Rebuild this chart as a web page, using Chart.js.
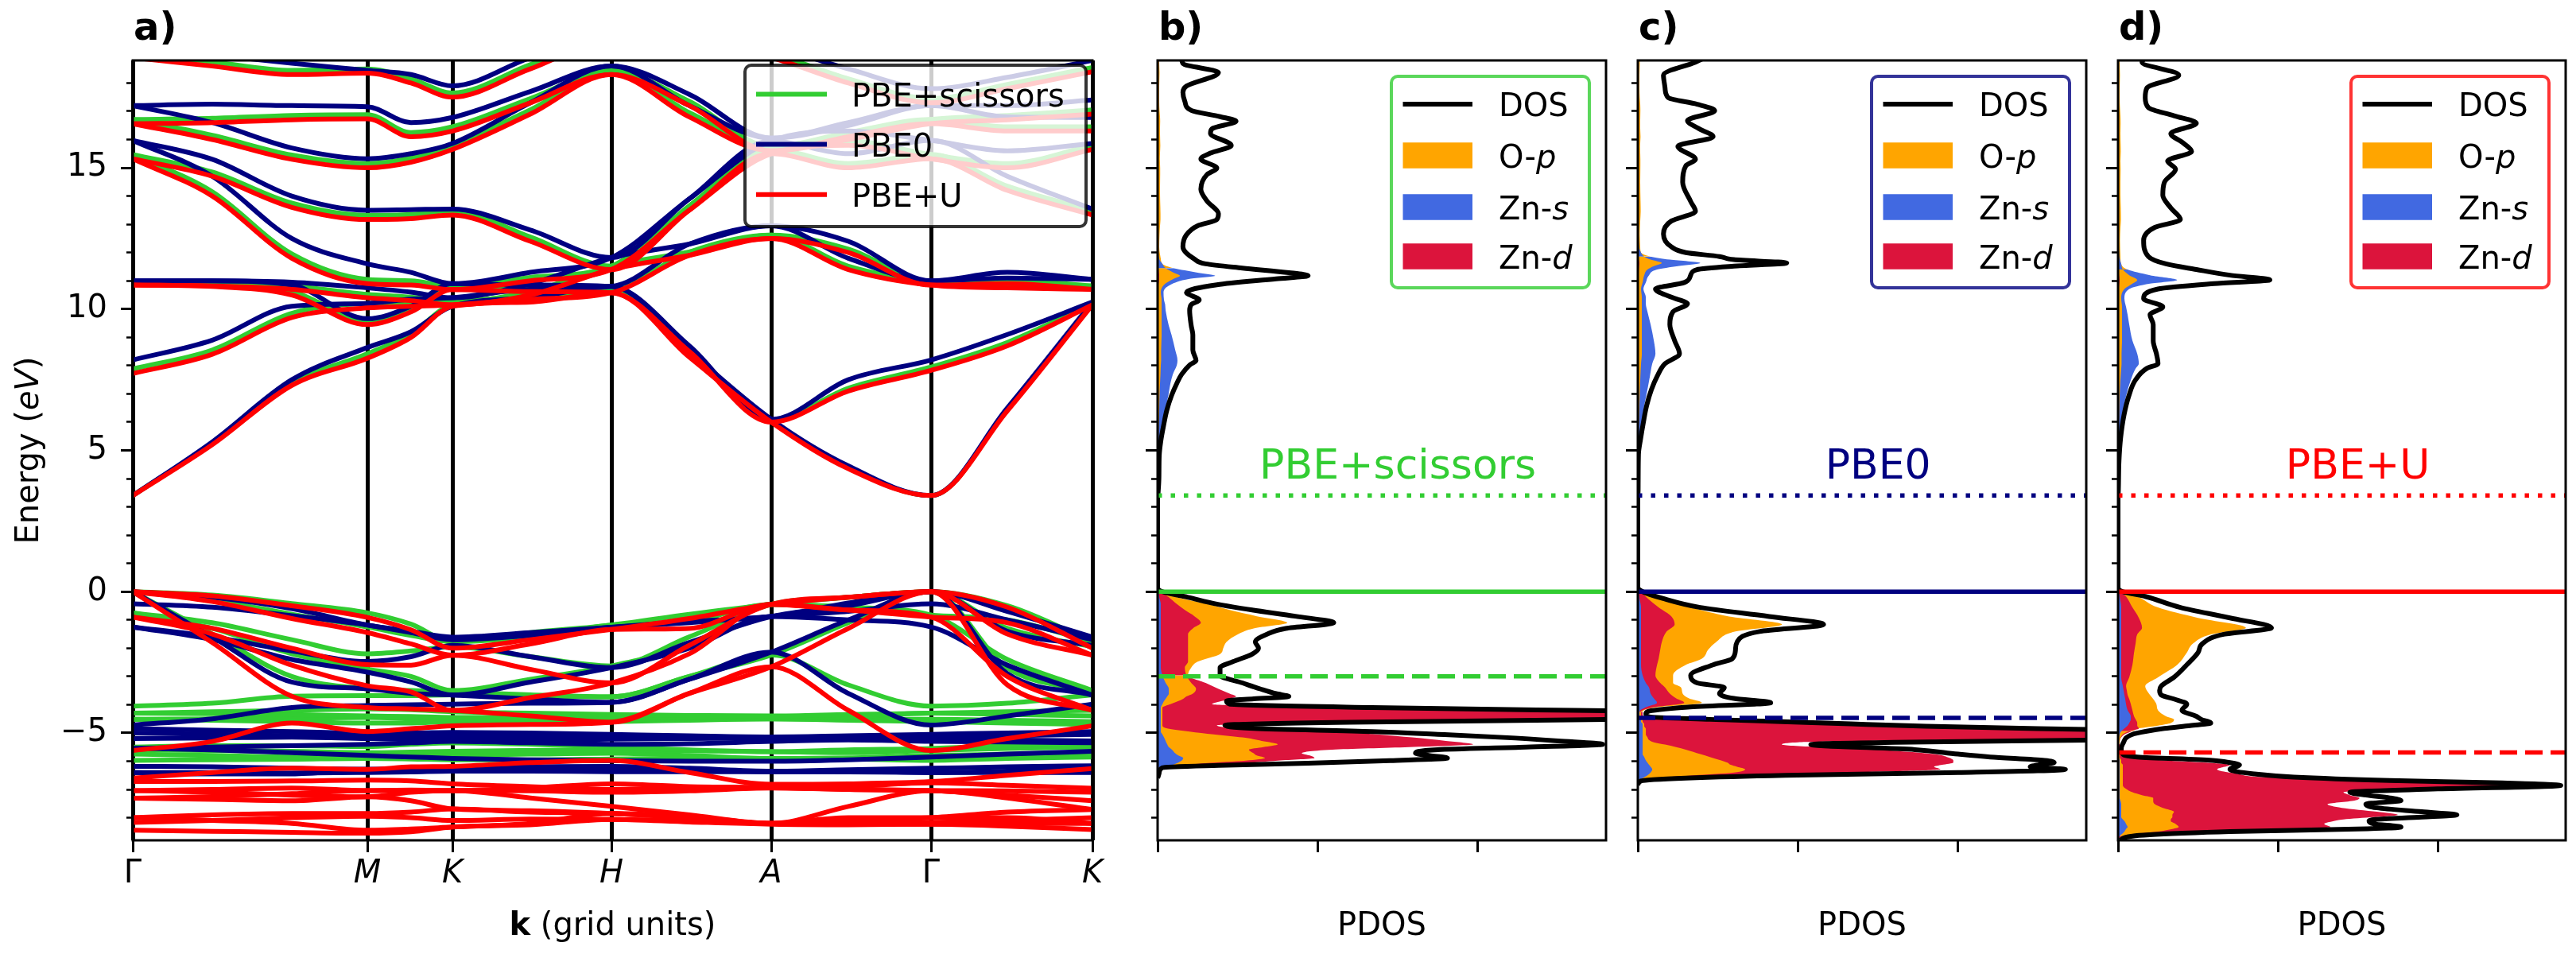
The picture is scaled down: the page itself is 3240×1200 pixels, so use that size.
<!DOCTYPE html>
<html>
<head>
<meta charset="utf-8">
<title>ZnO band structure and PDOS</title>
<script src="https://cdn.jsdelivr.net/npm/chart.js"></script>
<style>
html,body{margin:0;padding:0;background:#ffffff;}
#wrap{position:relative;width:3240px;height:1200px;background:#ffffff;}
#wrap canvas{position:absolute;left:0;top:0;width:3240px;height:1200px;}
</style>
</head>
<body>
<div id="wrap">
<canvas id="cA" width="3240" height="1200"></canvas>
<canvas id="cB" width="3240" height="1200"></canvas>
<canvas id="cC" width="3240" height="1200"></canvas>
<canvas id="cD" width="3240" height="1200"></canvas>
</div>
<script>
// ---------------- constants ----------------
const FAMILY = 'DejaVu Sans';
const FS = 40;
const C_SCI = '#32cd32', C_PBE0 = '#000080', C_U = '#ff0000';
const C_OP = '#ffa500', C_ZNS = '#4169e1', C_ZND = '#dc143c';

const E_MIN = -8.8, E_MAX = 18.8;
const Y_MAJOR = [-5, 0, 5, 10, 15];
const Y_MINOR = [-8,-7,-6,-5,-4,-3,-2,-1,0,1,2,3,4,5,6,7,8,9,10,11,12,13,14,15,16,17,18];

// ---------------- band structure: k path ----------------
const HS_POS = [0, 29.5, 40.2, 60.2, 80.3, 100.4, 120.7];
const HS_LABELS = ['Γ', 'M', 'K', 'H', 'A', 'Γ', 'K'];
const K_GRID = [0, 10, 20, 29.5, 35, 40.2, 50, 60.2, 70, 80.3, 90, 100.4, 110, 120.7];

// PBE+scissors bands (eV) sampled on K_GRID
const SCI_P = [
  [0.00, -0.12, -0.42, -0.75, -1.15, -1.77, -1.45, -1.18, -0.80, -0.45, -0.20, 0.00, -0.50, -1.77],
  [0.00, -0.30, -0.80, -1.25, -1.55, -1.77, -1.60, -1.18, -1.05, -0.45, -0.55, -0.83, -1.00, -1.77],
  [-0.75, -1.10, -1.70, -2.20, -2.10, -1.95, -2.30, -2.63, -1.60, -0.45, -0.20, 0.00, -1.30, -1.95],
  [-0.75, -1.30, -2.20, -2.74, -3.00, -3.50, -3.10, -2.63, -1.90, -0.45, -0.55, -0.83, -2.40, -3.50],
  [0.00, -1.50, -3.00, -3.44, -3.50, -3.55, -3.65, -3.72, -3.00, -2.24, -1.10, 0.00, -2.70, -3.55],
  [-4.05, -3.95, -3.70, -3.68, -3.68, -3.65, -3.68, -3.72, -3.00, -2.24, -3.30, -4.05, -3.95, -3.65]
];
const SCI_D = [
  [-4.30, -4.25, -4.20, -4.15, -4.18, -4.25, -4.30, -4.35, -4.38, -4.40, -4.35, -4.30, -4.25, -4.20],
  [-4.30, -4.32, -4.35, -4.40, -4.42, -4.45, -4.45, -4.42, -4.43, -4.43, -4.42, -4.30, -4.35, -4.40],
  [-4.52, -4.50, -4.48, -4.45, -4.50, -4.55, -4.55, -4.52, -4.50, -4.50, -4.52, -4.52, -4.55, -4.60],
  [-4.52, -4.55, -4.60, -4.65, -4.65, -4.60, -4.62, -4.60, -4.55, -4.50, -4.55, -4.60, -4.65, -4.70],
  [-5.50, -5.45, -5.45, -5.48, -5.40, -5.35, -5.40, -5.50, -5.60, -5.66, -5.60, -5.55, -5.45, -5.35],
  [-5.60, -5.62, -5.65, -5.70, -5.68, -5.65, -5.62, -5.60, -5.63, -5.66, -5.70, -5.62, -5.55, -5.50],
  [-5.75, -5.80, -5.85, -5.85, -5.80, -5.78, -5.75, -5.72, -5.80, -5.90, -5.88, -5.80, -5.75, -5.70],
  [-5.97, -5.95, -5.93, -5.90, -5.92, -5.95, -5.95, -5.92, -5.90, -5.90, -5.92, -5.97, -5.90, -5.85]
];
const SCI_C = [
  [3.40, 5.25, 7.38, 8.42, 9.12, 10.15, 10.32, 10.65, 8.38, 6.05, 4.40, 3.40, 6.45, 10.20],
  [7.88, 8.55, 9.85, 10.20, 10.22, 10.25, 10.47, 10.65, 12.02, 12.62, 11.52, 10.97, 10.87, 10.82],
  [10.97, 10.92, 10.62, 9.60, 10.02, 10.81, 10.74, 10.65, 8.58, 6.05, 7.20, 7.95, 8.82, 10.20],
  [10.97, 10.94, 10.82, 10.52, 10.42, 10.25, 10.62, 11.52, 12.02, 12.62, 12.12, 10.97, 11.02, 10.82],
  [15.47, 14.15, 11.95, 11.05, 11.00, 10.81, 11.12, 11.52, 13.65, 15.65, 15.15, 15.47, 14.35, 13.48],
  [15.47, 14.85, 13.75, 13.32, 13.35, 13.48, 12.55, 11.52, 13.65, 15.65, 15.95, 15.47, 15.15, 15.80],
  [16.71, 16.15, 15.45, 15.15, 15.35, 15.80, 17.05, 18.45, 16.95, 15.75, 16.25, 16.71, 16.45, 16.45],
  [16.71, 16.75, 16.85, 16.88, 16.25, 16.45, 17.45, 18.45, 17.35, 15.75, 16.15, 16.71, 16.85, 17.05],
  [19.05, 18.75, 18.45, 18.50, 18.15, 17.65, 18.65, 19.65, 19.65, 19.05, 18.15, 17.45, 17.95, 18.55]
];

// PBE0 bands
const PBE0_P = [
  [0.00, -0.20, -0.60, -1.18, -1.40, -1.61, -1.45, -1.26, -1.05, -0.88, -0.40, 0.00, -0.70, -1.61],
  [-0.43, -0.55, -0.85, -1.18, -1.45, -1.70, -1.55, -1.26, -1.10, -0.88, -0.70, -0.43, -1.00, -1.70],
  [-1.25, -1.60, -2.10, -2.47, -2.30, -1.90, -2.30, -2.69, -1.80, -0.88, -0.50, 0.00, -1.40, -1.90],
  [-1.25, -1.70, -2.40, -2.85, -3.20, -3.66, -3.20, -2.69, -2.00, -0.88, -1.00, -1.25, -2.60, -3.66],
  [0.00, -1.60, -3.20, -3.44, -3.60, -3.66, -3.80, -3.92, -3.10, -2.14, -1.00, 0.00, -2.90, -3.66],
  [-4.72, -4.50, -4.10, -4.03, -4.00, -3.98, -3.95, -3.92, -3.10, -2.14, -3.60, -4.72, -4.40, -3.98]
];
const PBE0_D = [
  [-4.85, -4.90, -4.95, -5.00, -5.00, -4.98, -5.00, -5.05, -5.10, -5.14, -5.10, -5.05, -5.00, -4.95],
  [-5.00, -5.05, -5.10, -5.14, -5.12, -5.10, -5.12, -5.14, -5.14, -5.14, -5.14, -5.14, -5.10, -5.05],
  [-5.20, -5.18, -5.15, -5.20, -5.22, -5.25, -5.25, -5.22, -5.20, -5.18, -5.20, -5.22, -5.25, -5.28],
  [-5.54, -5.50, -5.45, -5.40, -5.35, -5.30, -5.35, -5.40, -5.38, -5.30, -5.25, -5.30, -5.32, -5.35],
  [-5.54, -5.60, -5.70, -5.80, -5.85, -5.90, -5.95, -5.98, -6.00, -6.00, -5.95, -5.85, -5.75, -5.65],
  [-6.18, -6.20, -6.25, -6.28, -6.26, -6.22, -6.20, -6.18, -6.25, -6.35, -6.30, -6.25, -6.20, -6.16],
  [-6.40, -6.40, -6.42, -6.40, -6.38, -6.35, -6.35, -6.37, -6.37, -6.37, -6.38, -6.40, -6.40, -6.40],
  [-6.40, -6.45, -6.45, -6.30, -6.30, -6.30, -6.30, -6.30, -6.30, -6.37, -6.35, -6.40, -6.35, -6.25]
];
const PBE0_C = [
  [3.40, 5.30, 7.50, 8.64, 9.20, 10.10, 10.40, 10.80, 8.50, 6.10, 4.45, 3.40, 6.50, 10.25],
  [8.20, 8.90, 10.10, 10.20, 10.35, 10.40, 10.70, 10.80, 12.30, 12.95, 11.80, 11.00, 11.10, 11.05],
  [11.00, 11.00, 10.85, 9.66, 10.10, 10.90, 10.85, 10.80, 8.70, 6.10, 7.50, 8.20, 9.10, 10.25],
  [11.00, 11.00, 10.95, 10.75, 10.60, 10.40, 10.90, 11.82, 12.30, 12.95, 12.40, 11.00, 11.30, 11.05],
  [15.97, 14.70, 12.50, 11.60, 11.30, 10.90, 11.30, 11.82, 13.90, 15.95, 15.50, 15.97, 14.70, 13.54],
  [15.97, 15.30, 14.00, 13.50, 13.52, 13.54, 12.80, 11.82, 13.90, 15.95, 16.30, 15.97, 15.60, 15.86],
  [17.20, 16.60, 15.70, 15.32, 15.50, 15.86, 17.30, 18.60, 17.20, 16.05, 16.60, 17.20, 16.80, 16.78],
  [17.20, 17.25, 17.20, 17.16, 16.60, 16.78, 17.70, 18.60, 17.60, 16.05, 16.50, 17.20, 17.20, 17.40],
  [19.30, 19.00, 18.70, 18.45, 18.30, 17.90, 18.90, 19.80, 19.80, 19.30, 18.50, 17.80, 18.20, 18.80]
];

// PBE+U bands
const U_P = [
  [0.00, -0.15, -0.50, -0.91, -1.35, -2.00, -1.70, -1.34, -0.95, -0.45, -0.20, 0.00, -0.55, -2.00],
  [0.00, -0.35, -0.95, -1.45, -1.85, -2.25, -1.85, -1.34, -1.30, -0.45, -0.65, -0.90, -1.10, -2.25],
  [-0.90, -1.30, -2.00, -2.58, -2.60, -2.25, -2.75, -3.23, -1.90, -0.45, -0.20, 0.00, -1.50, -2.25],
  [-0.90, -1.50, -2.60, -3.33, -3.55, -4.20, -3.75, -3.23, -2.20, -0.45, -0.65, -0.90, -3.00, -4.20],
  [0.00, -1.80, -3.70, -4.10, -4.15, -4.20, -4.40, -4.62, -3.60, -2.66, -1.30, 0.00, -3.30, -4.20],
  [-5.62, -5.30, -4.65, -4.95, -4.85, -4.75, -4.70, -4.62, -3.60, -2.66, -4.20, -5.62, -5.20, -4.75]
];
const U_D = [
  [-6.60, -6.40, -6.25, -6.29, -6.20, -6.18, -6.05, -5.97, -6.40, -6.82, -6.80, -6.72, -6.50, -6.26],
  [-6.72, -6.72, -6.70, -6.67, -6.70, -6.80, -6.90, -7.00, -6.95, -6.93, -6.90, -6.77, -6.85, -6.96],
  [-7.04, -7.00, -6.95, -7.04, -7.02, -7.04, -7.05, -7.10, -7.05, -6.95, -7.00, -7.04, -7.05, -7.10],
  [-7.04, -7.10, -7.20, -7.26, -7.10, -7.04, -7.30, -7.60, -7.90, -8.20, -7.60, -7.04, -7.30, -7.71],
  [-7.31, -7.35, -7.40, -7.26, -7.40, -7.69, -7.75, -7.85, -8.00, -8.20, -8.10, -8.00, -7.80, -7.71],
  [-8.00, -7.90, -7.85, -7.85, -7.80, -7.69, -7.80, -7.85, -8.00, -8.20, -8.20, -8.17, -8.10, -8.00],
  [-8.17, -8.10, -8.00, -7.95, -8.00, -8.10, -8.05, -8.06, -8.10, -8.20, -8.20, -8.23, -8.20, -8.20],
  [-8.44, -8.48, -8.52, -8.55, -8.50, -8.33, -8.25, -8.06, -8.15, -8.23, -8.25, -8.23, -8.30, -8.42],
  [-7.31, -7.25, -7.15, -7.04, -7.04, -7.04, -6.95, -6.80, -6.90, -6.93, -7.00, -7.04, -7.20, -7.40],
  [-8.00, -8.10, -8.20, -8.44, -8.40, -8.33, -8.20, -7.85, -7.95, -8.20, -8.00, -8.00, -8.00, -8.20]
];
const U_C = [
  [3.40, 5.20, 7.30, 8.26, 9.00, 10.10, 10.25, 10.58, 8.30, 6.00, 4.35, 3.40, 6.40, 10.15],
  [7.72, 8.40, 9.70, 10.04, 10.10, 10.15, 10.35, 10.58, 11.90, 12.50, 11.40, 10.85, 10.75, 10.70],
  [10.85, 10.80, 10.50, 9.45, 9.90, 10.69, 10.62, 10.58, 8.50, 6.00, 7.10, 7.83, 8.70, 10.15],
  [10.85, 10.82, 10.70, 10.40, 10.30, 10.15, 10.50, 11.40, 11.90, 12.50, 12.00, 10.85, 10.90, 10.70],
  [15.32, 14.00, 11.80, 10.90, 10.85, 10.69, 11.00, 11.40, 13.50, 15.50, 15.00, 15.32, 14.20, 13.33],
  [15.32, 14.70, 13.60, 13.17, 13.20, 13.33, 12.40, 11.40, 13.50, 15.50, 15.80, 15.32, 15.00, 15.65],
  [16.56, 16.00, 15.30, 15.00, 15.20, 15.65, 16.90, 18.30, 16.80, 15.60, 16.10, 16.56, 16.30, 16.30],
  [16.56, 16.60, 16.70, 16.73, 16.10, 16.30, 17.30, 18.30, 17.20, 15.60, 16.00, 16.56, 16.70, 16.90],
  [18.90, 18.60, 18.30, 18.35, 18.00, 17.50, 18.50, 19.50, 19.50, 18.90, 18.00, 17.30, 17.80, 18.40]
];

// ---------------- PDOS: rows = [E, DOS, O-p, Zn-s, Zn-d] ----------------
const PDOS_X_MAX = 2.8;
const PDOS_TICKS = [0, 1, 2];
const VBM = 0.0, CBM = 3.4;
const DASH_SCI = -3.0, DASH_PBE0 = -4.47, DASH_U = -5.69;
const LABEL_POS = [1.5, 4.0];

const PDOS_SCI = [
  [-6.60, 0.00, 0.00, 0.00, 0.00], [-6.40, 0.01, 0.00, 0.00, 0.00], [-6.23, 0.03, 0.01, 0.02, 0.01],
  [-6.15, 0.38, 0.15, 0.08, 0.15], [-6.07, 0.94, 0.30, 0.12, 0.52], [-5.98, 1.45, 0.55, 0.15, 0.75],
  [-5.89, 1.81, 0.67, 0.16, 0.98], [-5.80, 1.70, 0.62, 0.13, 0.95], [-5.72, 1.61, 0.60, 0.11, 0.90],
  [-5.59, 1.75, 0.57, 0.09, 1.09], [-5.50, 2.30, 0.66, 0.07, 1.57], [-5.40, 2.78, 0.75, 0.06, 1.97],
  [-5.28, 2.50, 0.65, 0.05, 1.80], [-5.16, 2.16, 0.53, 0.04, 1.59], [-5.05, 1.75, 0.35, 0.03, 1.37],
  [-4.95, 1.34, 0.20, 0.02, 1.12], [-4.84, 0.60, 0.06, 0.02, 0.52], [-4.73, 0.42, 0.03, 0.02, 0.37],
  [-4.62, 1.20, 0.03, 0.02, 1.10], [-4.52, 2.90, 0.03, 0.02, 2.70], [-4.45, 3.80, 0.03, 0.02, 3.55],
  [-4.36, 4.50, 0.03, 0.02, 4.20], [-4.27, 3.60, 0.03, 0.02, 3.35], [-4.20, 2.60, 0.03, 0.02, 2.40],
  [-4.10, 1.34, 0.03, 0.02, 1.20], [-3.98, 0.45, 0.08, 0.03, 0.34], [-3.87, 0.43, 0.13, 0.04, 0.40],
  [-3.79, 0.60, 0.16, 0.05, 0.45], [-3.71, 0.82, 0.18, 0.06, 0.49], [-3.61, 0.74, 0.22, 0.07, 0.45],
  [-3.44, 0.64, 0.24, 0.07, 0.38], [-3.23, 0.53, 0.21, 0.05, 0.30], [-2.96, 0.39, 0.18, 0.03, 0.19],
  [-2.69, 0.39, 0.21, 0.02, 0.17], [-2.48, 0.47, 0.25, 0.02, 0.19], [-2.21, 0.59, 0.39, 0.02, 0.19],
  [-2.00, 0.63, 0.41, 0.02, 0.19], [-1.78, 0.61, 0.43, 0.02, 0.19], [-1.51, 0.68, 0.50, 0.02, 0.19],
  [-1.30, 0.80, 0.60, 0.02, 0.22], [-1.10, 1.10, 0.81, 0.02, 0.27], [-0.87, 0.86, 0.62, 0.02, 0.23],
  [-0.65, 0.59, 0.45, 0.02, 0.17], [-0.44, 0.37, 0.31, 0.02, 0.12], [-0.20, 0.19, 0.12, 0.01, 0.07],
  [0.00, 0.03, 0.03, 0.005, 0.02], [0.15, 0.00, 0.00, 0.00, 0.00],
  [3.30, 0.000, 0.000, 0.000, 0.000], [3.50, 0.003, 0.000, 0.002, 0.000], [4.00, 0.008, 0.002, 0.005, 0.000],
  [4.80, 0.010, 0.003, 0.008, 0.000], [5.33, 0.020, 0.005, 0.015, 0.000], [5.87, 0.037, 0.007, 0.030, 0.001],
  [6.41, 0.057, 0.010, 0.047, 0.002], [6.94, 0.087, 0.012, 0.067, 0.002], [7.37, 0.120, 0.015, 0.080, 0.003],
  [7.69, 0.150, 0.018, 0.095, 0.003], [8.02, 0.200, 0.020, 0.120, 0.003], [8.18, 0.240, 0.022, 0.124, 0.003],
  [8.55, 0.220, 0.022, 0.110, 0.003], [9.09, 0.220, 0.025, 0.087, 0.003], [9.41, 0.210, 0.025, 0.070, 0.003],
  [9.95, 0.200, 0.025, 0.050, 0.003], [10.16, 0.210, 0.025, 0.047, 0.003], [10.32, 0.260, 0.025, 0.040, 0.003],
  [10.59, 0.180, 0.020, 0.037, 0.003], [10.86, 0.370, 0.040, 0.080, 0.005], [11.07, 0.740, 0.100, 0.200, 0.010],
  [11.18, 0.940, 0.140, 0.360, 0.010], [11.29, 0.820, 0.100, 0.250, 0.008], [11.45, 0.530, 0.050, 0.100, 0.005],
  [11.60, 0.300, 0.030, 0.030, 0.003], [11.77, 0.230, 0.020, 0.010, 0.002], [12.20, 0.158, 0.010, 0.005, 0.001],
  [12.63, 0.180, 0.012, 0.005, 0.001], [12.95, 0.250, 0.015, 0.005, 0.001], [13.17, 0.370, 0.018, 0.005, 0.001],
  [13.38, 0.380, 0.018, 0.005, 0.001], [13.81, 0.310, 0.016, 0.004, 0.001], [14.24, 0.270, 0.015, 0.004, 0.001],
  [14.77, 0.310, 0.016, 0.004, 0.001], [14.99, 0.370, 0.016, 0.004, 0.001], [15.31, 0.270, 0.014, 0.004, 0.001],
  [15.52, 0.330, 0.015, 0.004, 0.001], [15.79, 0.460, 0.017, 0.004, 0.001], [16.22, 0.330, 0.015, 0.004, 0.001],
  [16.38, 0.340, 0.015, 0.004, 0.001], [16.65, 0.490, 0.016, 0.004, 0.001], [16.81, 0.390, 0.015, 0.004, 0.001],
  [17.03, 0.210, 0.012, 0.003, 0.001], [17.35, 0.170, 0.010, 0.003, 0.001], [17.67, 0.158, 0.010, 0.003, 0.001],
  [17.89, 0.180, 0.010, 0.003, 0.001], [18.37, 0.380, 0.012, 0.003, 0.001], [18.69, 0.158, 0.010, 0.003, 0.001],
  [18.90, 0.150, 0.010, 0.003, 0.001]
];

const PDOS_PBE0 = [
  [-6.85, 0.00, 0.00, 0.00, 0.00], [-6.70, 0.02, 0.01, 0.005, 0.01], [-6.60, 0.30, 0.10, 0.03, 0.15],
  [-6.50, 0.92, 0.35, 0.06, 0.60], [-6.40, 2.00, 0.60, 0.08, 1.30], [-6.29, 2.67, 0.67, 0.09, 1.89],
  [-6.20, 2.45, 0.62, 0.08, 1.85], [-6.13, 2.50, 0.58, 0.07, 1.90], [-6.05, 2.60, 0.56, 0.06, 1.97],
  [-5.97, 2.54, 0.52, 0.05, 1.97], [-5.85, 2.20, 0.45, 0.04, 1.93], [-5.75, 2.00, 0.39, 0.03, 1.85],
  [-5.59, 1.73, 0.30, 0.03, 1.50], [-5.41, 1.08, 0.17, 0.03, 0.90], [-5.33, 1.60, 0.10, 0.03, 1.00],
  [-5.25, 2.90, 0.07, 0.03, 1.90], [-5.15, 4.20, 0.06, 0.03, 3.60], [-5.05, 4.60, 0.05, 0.03, 4.30],
  [-4.95, 3.60, 0.05, 0.03, 3.30], [-4.85, 2.50, 0.05, 0.03, 2.20], [-4.76, 1.80, 0.04, 0.03, 1.60],
  [-4.68, 1.33, 0.04, 0.03, 1.20], [-4.60, 0.90, 0.03, 0.02, 0.75], [-4.52, 0.45, 0.03, 0.02, 0.35],
  [-4.43, 0.07, 0.02, 0.01, 0.04], [-4.33, 0.05, 0.02, 0.01, 0.03], [-4.25, 0.06, 0.02, 0.01, 0.03],
  [-4.09, 0.31, 0.12, 0.05, 0.10], [-3.93, 0.83, 0.40, 0.12, 0.29], [-3.78, 0.60, 0.32, 0.10, 0.24],
  [-3.61, 0.51, 0.28, 0.08, 0.20], [-3.39, 0.54, 0.27, 0.07, 0.17], [-3.23, 0.37, 0.22, 0.05, 0.14],
  [-2.96, 0.33, 0.22, 0.03, 0.11], [-2.59, 0.47, 0.30, 0.02, 0.12], [-2.37, 0.59, 0.40, 0.02, 0.13],
  [-2.05, 0.61, 0.44, 0.02, 0.14], [-1.78, 0.62, 0.49, 0.02, 0.15], [-1.41, 0.76, 0.61, 0.02, 0.18],
  [-1.16, 1.16, 0.90, 0.02, 0.23], [-0.88, 0.82, 0.57, 0.02, 0.21], [-0.56, 0.39, 0.33, 0.02, 0.13],
  [-0.23, 0.15, 0.12, 0.01, 0.06], [0.00, 0.03, 0.03, 0.005, 0.02], [0.15, 0.00, 0.00, 0.00, 0.00],
  [3.30, 0.000, 0.000, 0.000, 0.000], [3.60, 0.002, 0.000, 0.001, 0.000], [4.86, 0.004, 0.001, 0.003, 0.000],
  [5.43, 0.018, 0.004, 0.012, 0.000], [6.00, 0.035, 0.007, 0.025, 0.001], [6.58, 0.055, 0.010, 0.040, 0.002],
  [7.15, 0.085, 0.013, 0.060, 0.002], [7.61, 0.120, 0.016, 0.075, 0.003], [8.07, 0.170, 0.020, 0.090, 0.003],
  [8.42, 0.260, 0.025, 0.110, 0.003], [8.88, 0.230, 0.025, 0.100, 0.003], [9.45, 0.200, 0.025, 0.080, 0.003],
  [9.91, 0.220, 0.025, 0.060, 0.003], [10.19, 0.310, 0.025, 0.050, 0.003], [10.42, 0.210, 0.025, 0.050, 0.003],
  [10.71, 0.110, 0.020, 0.035, 0.003], [10.94, 0.290, 0.030, 0.050, 0.004], [11.20, 0.330, 0.040, 0.070, 0.005],
  [11.40, 0.370, 0.060, 0.120, 0.006], [11.52, 0.600, 0.100, 0.250, 0.008], [11.63, 0.930, 0.150, 0.390, 0.010],
  [11.75, 0.600, 0.080, 0.200, 0.006], [11.86, 0.510, 0.040, 0.080, 0.004], [12.00, 0.300, 0.020, 0.020, 0.002],
  [12.20, 0.210, 0.015, 0.008, 0.001], [12.66, 0.160, 0.012, 0.005, 0.001], [13.12, 0.210, 0.015, 0.005, 0.001],
  [13.46, 0.360, 0.018, 0.005, 0.001], [13.81, 0.330, 0.017, 0.004, 0.001], [14.49, 0.280, 0.015, 0.004, 0.001],
  [15.07, 0.300, 0.016, 0.004, 0.001], [15.30, 0.360, 0.016, 0.004, 0.001], [15.76, 0.250, 0.014, 0.004, 0.001],
  [16.10, 0.470, 0.017, 0.004, 0.001], [16.39, 0.380, 0.015, 0.004, 0.001], [16.67, 0.310, 0.015, 0.004, 0.001],
  [17.02, 0.480, 0.016, 0.004, 0.001], [17.25, 0.370, 0.015, 0.004, 0.001], [17.48, 0.190, 0.012, 0.003, 0.001],
  [17.82, 0.170, 0.010, 0.003, 0.001], [18.28, 0.160, 0.010, 0.003, 0.001], [18.74, 0.360, 0.012, 0.003, 0.001],
  [18.90, 0.420, 0.012, 0.003, 0.001]
];

const PDOS_U = [
  [-8.80, 0.01, 0.00, 0.00, 0.00], [-8.65, 0.09, 0.03, 0.01, 0.03], [-8.55, 0.40, 0.15, 0.03, 0.20],
  [-8.49, 0.70, 0.25, 0.04, 0.35], [-8.40, 1.50, 0.34, 0.05, 1.10], [-8.33, 1.77, 0.38, 0.06, 1.33],
  [-8.22, 1.60, 0.36, 0.05, 1.29], [-8.12, 1.57, 0.33, 0.04, 1.35], [-8.06, 1.61, 0.33, 0.03, 1.41],
  [-7.98, 1.90, 0.34, 0.02, 1.60], [-7.90, 2.12, 0.34, 0.02, 1.75], [-7.79, 1.90, 0.35, 0.02, 1.62],
  [-7.65, 1.62, 0.28, 0.02, 1.40], [-7.52, 1.55, 0.23, 0.02, 1.31], [-7.39, 1.77, 0.22, 0.015, 1.48],
  [-7.30, 1.70, 0.22, 0.01, 1.51], [-7.20, 1.55, 0.15, 0.01, 1.45], [-7.10, 1.45, 0.09, 0.01, 1.41],
  [-6.98, 2.00, 0.05, 0.01, 1.85], [-6.86, 2.77, 0.03, 0.01, 2.72], [-6.77, 2.40, 0.03, 0.01, 2.32],
  [-6.68, 1.70, 0.03, 0.01, 1.55], [-6.56, 1.10, 0.03, 0.01, 0.90], [-6.45, 0.85, 0.03, 0.01, 0.75],
  [-6.29, 0.70, 0.03, 0.01, 0.62], [-6.13, 0.76, 0.03, 0.01, 0.70], [-6.05, 0.70, 0.02, 0.01, 0.55],
  [-5.97, 0.59, 0.02, 0.01, 0.29], [-5.85, 0.12, 0.01, 0.005, 0.06], [-5.75, 0.03, 0.01, 0.005, 0.02],
  [-5.59, 0.02, 0.01, 0.005, 0.01], [-5.38, 0.03, 0.01, 0.005, 0.01], [-5.05, 0.09, 0.03, 0.01, 0.04],
  [-4.94, 0.18, 0.07, 0.02, 0.09], [-4.84, 0.29, 0.13, 0.04, 0.13], [-4.74, 0.45, 0.25, 0.06, 0.12],
  [-4.65, 0.58, 0.33, 0.07, 0.12], [-4.52, 0.52, 0.35, 0.08, 0.11], [-4.41, 0.49, 0.30, 0.08, 0.10],
  [-4.20, 0.40, 0.25, 0.06, 0.09], [-3.98, 0.43, 0.24, 0.05, 0.08], [-3.80, 0.35, 0.22, 0.045, 0.07],
  [-3.66, 0.27, 0.20, 0.04, 0.06], [-3.50, 0.26, 0.18, 0.035, 0.055], [-3.34, 0.27, 0.17, 0.03, 0.05],
  [-3.03, 0.35, 0.25, 0.02, 0.07], [-2.59, 0.43, 0.37, 0.02, 0.09], [-2.16, 0.50, 0.43, 0.02, 0.10],
  [-1.83, 0.53, 0.47, 0.02, 0.11], [-1.51, 0.66, 0.58, 0.02, 0.12], [-1.28, 0.96, 0.80, 0.02, 0.15],
  [-0.93, 0.70, 0.50, 0.02, 0.13], [-0.56, 0.39, 0.25, 0.02, 0.09], [-0.17, 0.17, 0.12, 0.01, 0.05],
  [0.00, 0.03, 0.03, 0.005, 0.02], [0.15, 0.00, 0.00, 0.00, 0.00],
  [3.30, 0.000, 0.000, 0.000, 0.000], [3.60, 0.002, 0.000, 0.001, 0.000], [4.63, 0.006, 0.001, 0.004, 0.000],
  [5.43, 0.016, 0.003, 0.012, 0.000], [6.24, 0.037, 0.007, 0.030, 0.001], [6.92, 0.067, 0.010, 0.050, 0.002],
  [7.50, 0.110, 0.015, 0.080, 0.002], [7.90, 0.180, 0.020, 0.110, 0.003], [8.07, 0.250, 0.022, 0.130, 0.003],
  [8.42, 0.240, 0.022, 0.120, 0.003], [8.88, 0.220, 0.025, 0.090, 0.003], [9.45, 0.220, 0.025, 0.070, 0.003],
  [9.80, 0.200, 0.025, 0.060, 0.003], [10.08, 0.280, 0.025, 0.050, 0.003], [10.37, 0.160, 0.020, 0.040, 0.003],
  [10.71, 0.250, 0.040, 0.070, 0.004], [10.90, 0.600, 0.090, 0.200, 0.008], [11.03, 0.950, 0.120, 0.370, 0.010],
  [11.20, 0.700, 0.070, 0.200, 0.006], [11.40, 0.490, 0.030, 0.060, 0.004], [11.60, 0.300, 0.020, 0.020, 0.002],
  [11.86, 0.190, 0.015, 0.008, 0.001], [12.43, 0.160, 0.012, 0.005, 0.001], [12.89, 0.230, 0.015, 0.005, 0.001],
  [13.17, 0.390, 0.018, 0.005, 0.001], [13.58, 0.330, 0.017, 0.004, 0.001], [14.03, 0.280, 0.015, 0.004, 0.001],
  [14.49, 0.290, 0.015, 0.004, 0.001], [14.95, 0.360, 0.016, 0.004, 0.001], [15.24, 0.310, 0.015, 0.004, 0.001],
  [15.58, 0.460, 0.017, 0.004, 0.001], [15.87, 0.410, 0.016, 0.004, 0.001], [16.21, 0.330, 0.015, 0.004, 0.001],
  [16.58, 0.490, 0.016, 0.004, 0.001], [16.84, 0.350, 0.015, 0.004, 0.001], [17.13, 0.190, 0.012, 0.003, 0.001],
  [17.48, 0.170, 0.010, 0.003, 0.001], [17.82, 0.180, 0.010, 0.003, 0.001], [18.28, 0.380, 0.012, 0.003, 0.001],
  [18.74, 0.150, 0.010, 0.003, 0.001], [18.90, 0.170, 0.010, 0.003, 0.001]
];

// ---------------- helpers ----------------
Chart.defaults.font.family = FAMILY;
Chart.defaults.color = '#000';

function fontStr(style, size) { return (style ? style + ' ' : '') + size + 'px "' + FAMILY + '"'; }
function richWidth(ctx, parts, size) {
  let w = 0;
  for (const p of parts) { ctx.font = fontStr(p.s, size); w += ctx.measureText(p.t).width; }
  return w;
}
function drawRich(ctx, parts, x, y, size, align) {
  const w = richWidth(ctx, parts, size);
  let cx = align === 'center' ? x - w / 2 : (align === 'right' ? x - w : x);
  ctx.textAlign = 'left';
  ctx.textBaseline = 'alphabetic';
  for (const p of parts) {
    ctx.font = fontStr(p.s, size);
    ctx.fillText(p.t, cx, y);
    cx += ctx.measureText(p.t).width;
  }
}
function roundRect(ctx, x, y, w, h, r) {
  ctx.beginPath();
  ctx.moveTo(x + r, y);
  ctx.arcTo(x + w, y, x + w, y + h, r);
  ctx.arcTo(x + w, y + h, x, y + h, r);
  ctx.arcTo(x, y + h, x, y, r);
  ctx.arcTo(x, y, x + w, y, r);
  ctx.closePath();
}

function yScales(width, showLabels) {
  return {
    y: {
      type: 'linear', position: 'left', min: E_MIN, max: E_MAX, weight: 1,
      afterBuildTicks: ax => { ax.ticks = Y_MAJOR.map(v => ({value: v})); },
      afterFit: ax => { ax.width = width; },
      grid: {drawOnChartArea: false, drawTicks: true, tickLength: 15, tickWidth: 3, tickColor: '#000'},
      border: {display: false},
      ticks: {
        display: showLabels, padding: 17, color: '#000', font: {family: FAMILY, size: FS},
        callback: v => showLabels ? (v < 0 ? '\u2212' + Math.abs(v) : String(v)) : ''
      }
    },
    yMinor: {
      type: 'linear', position: 'left', min: E_MIN, max: E_MAX, weight: 0,
      afterBuildTicks: ax => { ax.ticks = Y_MINOR.map(v => ({value: v})); },
      afterFit: ax => { ax.width = 0; },
      grid: {drawOnChartArea: false, drawTicks: true, tickLength: 8, tickWidth: 2.5, tickColor: '#000'},
      border: {display: false},
      ticks: {display: false}
    }
  };
}

function makeDecor(spec) {
  return {
    id: 'decor',
    afterDatasetsDraw(chart) {
      const ctx = chart.ctx, ca = chart.chartArea;
      ctx.save();
      if (spec.method) {
        const xs = chart.scales.x, ys = chart.scales.y;
        ctx.fillStyle = spec.method.color;
        ctx.font = fontStr('', 52);
        ctx.textAlign = 'center';
        ctx.textBaseline = 'alphabetic';
        ctx.fillText(spec.method.text, xs.getPixelForValue(LABEL_POS[0]), ys.getPixelForValue(LABEL_POS[1]));
      }
      ctx.strokeStyle = '#000';
      ctx.lineWidth = 3;
      ctx.strokeRect(ca.left, ca.top, ca.right - ca.left, ca.bottom - ca.top);
      ctx.restore();
    },
    afterDraw(chart) {
      const ctx = chart.ctx, ca = chart.chartArea;
      ctx.save();
      ctx.fillStyle = '#000';
      ctx.font = fontStr('bold', 48);
      ctx.textAlign = 'left';
      ctx.textBaseline = 'alphabetic';
      ctx.fillText(spec.letter, ca.left + 1, 50);
      if (spec.bandAxes) {
        ctx.save();
        ctx.translate(48, (ca.top + ca.bottom) / 2);
        ctx.rotate(-Math.PI / 2);
        ctx.fillStyle = '#000';
        drawRich(ctx, [{t: 'Energy (', s: ''}, {t: 'eV', s: 'italic'}, {t: ')', s: ''}], 0, 0, FS, 'center');
        ctx.restore();
        ctx.fillStyle = '#000';
        drawRich(ctx, [{t: 'k', s: 'bold'}, {t: ' (grid units)', s: ''}], (ca.left + ca.right) / 2, 1176, FS, 'center');
      }
      if (spec.bandLegend) {
        const L = ca.right - 437, T = ca.top + 6, W = 429, H = 203;
        roundRect(ctx, L, T, W, H, 8);
        ctx.fillStyle = 'rgba(255,255,255,0.8)';
        ctx.fill();
        ctx.lineWidth = 4;
        ctx.strokeStyle = 'rgba(0,0,0,0.8)';
        ctx.stroke();
        const rows = [36.5, 99.6, 162.7];
        spec.bandLegend.forEach((it, i) => {
          const y = T + rows[i];
          ctx.strokeStyle = it.color;
          ctx.lineWidth = 6;
          ctx.beginPath();
          ctx.moveTo(L + 14, y);
          ctx.lineTo(L + 103, y);
          ctx.stroke();
          ctx.fillStyle = '#000';
          drawRich(ctx, [{t: it.label, s: ''}], L + 134, y + 15, FS, 'left');
        });
      }
      if (spec.pdosLegend) {
        const W = 249, H = 266, L = ca.right - 21 - W, T = ca.top + 20;
        roundRect(ctx, L, T, W, H, 8);
        ctx.fillStyle = 'rgba(255,255,255,0.8)';
        ctx.fill();
        ctx.lineWidth = 4;
        ctx.strokeStyle = spec.pdosLegend;
        ctx.stroke();
        const items = [
          {kind: 'line', color: '#000', parts: [{t: 'DOS', s: ''}]},
          {kind: 'patch', color: C_OP, parts: [{t: 'O-', s: ''}, {t: 'p', s: 'italic'}]},
          {kind: 'patch', color: C_ZNS, parts: [{t: 'Zn-', s: ''}, {t: 's', s: 'italic'}]},
          {kind: 'patch', color: C_ZND, parts: [{t: 'Zn-', s: ''}, {t: 'd', s: 'italic'}]}
        ];
        const rows = [35, 99.5, 164.5, 226.5];
        items.forEach((it, i) => {
          const y = T + rows[i];
          if (it.kind === 'line') {
            ctx.strokeStyle = it.color;
            ctx.lineWidth = 6;
            ctx.beginPath();
            ctx.moveTo(L + 14.5, y);
            ctx.lineTo(L + 102, y);
            ctx.stroke();
          } else {
            ctx.fillStyle = it.color;
            ctx.fillRect(L + 14.5, y - 16.25, 87.5, 32.5);
          }
          ctx.fillStyle = '#000';
          drawRich(ctx, it.parts, L + 135, y + 15, FS, 'left');
        });
      }
      ctx.restore();
    }
  };
}

// ---------------- panel a: band structure ----------------
function bandSets(groups, color, order) {
  const out = [];
  groups.forEach(g => g.forEach(b => out.push({
    data: K_GRID.map((k, i) => ({x: k, y: b[i]})),
    borderColor: color, borderWidth: 6, pointRadius: 0, fill: false,
    cubicInterpolationMode: 'monotone', borderJoinStyle: 'round', order: order, clip: 0
  })));
  return out;
}
const bandData = [].concat(
  bandSets([SCI_P, SCI_D, SCI_C], C_SCI, 3),
  bandSets([PBE0_P, PBE0_D, PBE0_C], C_PBE0, 2),
  bandSets([U_P, U_D, U_C], C_U, 1)
);

const A_LEFT = 167, A_RIGHT = 1374, TOP = 76, BOTTOM = 1057;

new Chart(document.getElementById('cA'), {
  type: 'line',
  data: {datasets: bandData},
  options: {
    responsive: false, animation: false, devicePixelRatio: 1, events: [],
    layout: {padding: {left: 0, right: 3240 - A_RIGHT, top: TOP, bottom: 0}},
    elements: {point: {radius: 0}},
    plugins: {legend: {display: false}, tooltip: {enabled: false}},
    scales: Object.assign({
      x: {
        type: 'linear', min: 0, max: 120.7, z: 1,
        afterBuildTicks: ax => { ax.ticks = HS_POS.map(v => ({value: v})); },
        afterFit: ax => { ax.height = 1200 - BOTTOM; },
        grid: {color: '#000', lineWidth: 5, drawOnChartArea: true, drawTicks: true, tickLength: 15, tickWidth: 3, tickColor: '#000'},
        border: {display: false},
        ticks: {
          autoSkip: false, maxRotation: 0, minRotation: 0, padding: 4, color: '#000',
          font: c => ({family: FAMILY, size: FS, style: HS_LABELS[c.index] === 'Γ' ? 'normal' : 'italic'}),
          callback: (v, i) => HS_LABELS[i]
        }
      }
    }, yScales(A_LEFT, true))
  },
  plugins: [makeDecor({
    letter: 'a)', bandAxes: true,
    bandLegend: [{label: 'PBE+scissors', color: C_SCI}, {label: 'PBE0', color: C_PBE0}, {label: 'PBE+U', color: C_U}]
  })]
});

// ---------------- panels b-d: PDOS ----------------
function pdosLayers(rows) {
  const L = [[], [], []];
  rows.forEach(r => {
    const comps = [{v: r[2], c: C_OP}, {v: r[3], c: C_ZNS}, {v: r[4], c: C_ZND}].sort((a, b) => b.v - a.v);
    comps.forEach((o, i) => L[i].push({x: o.v, y: r[0], c: o.c}));
  });
  return L;
}
function hline(e, color, dash, order) {
  return {
    data: [{x: 0, y: e}, {x: PDOS_X_MAX, y: e}],
    borderColor: color, borderWidth: 5.5, borderDash: dash, borderCapStyle: 'butt',
    pointRadius: 0, fill: false, tension: 0, order: order, clip: 0
  };
}
function pdosChart(id, rows, color, edge, dashE, caLeft, caRight, letter, text) {
  const layers = pdosLayers(rows);
  const ds = [];
  layers.forEach((layer, i) => ds.push({
    data: layer.map(p => ({x: p.x, y: p.y})),
    borderColor: 'rgba(0,0,0,0)', borderWidth: 0, pointRadius: 0,
    cubicInterpolationMode: 'monotone', fill: 'origin', backgroundColor: layer[0].c,
    segment: {backgroundColor: c => layer[c.p1DataIndex].c},
    order: 20 - i, clip: 0
  }));
  ds.push({
    data: rows.map(r => ({x: r[1], y: r[0]})),
    borderColor: '#000', borderWidth: 6, pointRadius: 0, fill: false,
    cubicInterpolationMode: 'monotone', borderJoinStyle: 'round', order: 5, clip: 0
  });
  ds.push(hline(VBM, color, [], 3));
  ds.push(hline(CBM, color, [5.5, 11], 2));
  ds.push(hline(dashE, color, [22, 10], 1));
  return new Chart(document.getElementById(id), {
    type: 'line',
    data: {datasets: ds},
    options: {
      indexAxis: 'y',
      responsive: false, animation: false, devicePixelRatio: 1, events: [],
      layout: {padding: {left: caLeft - 60, right: 3240 - caRight, top: TOP, bottom: 0}},
      elements: {point: {radius: 0}},
      plugins: {legend: {display: false}, tooltip: {enabled: false}},
      scales: Object.assign({
        x: {
          type: 'linear', min: 0, max: PDOS_X_MAX,
          afterBuildTicks: ax => { ax.ticks = PDOS_TICKS.map(v => ({value: v})); },
          afterFit: ax => { ax.height = 1200 - BOTTOM; },
          grid: {drawOnChartArea: false, drawTicks: true, tickLength: 15, tickWidth: 3, tickColor: '#000'},
          border: {display: false},
          ticks: {display: true, callback: () => '', padding: 4, font: {family: FAMILY, size: FS}},
          title: {display: true, text: 'PDOS', color: '#000', font: {family: FAMILY, size: FS}, padding: {top: 0, bottom: 10}}
        }
      }, yScales(60, false))
    },
    plugins: [makeDecor({letter: letter, pdosLegend: edge, method: {text: text, color: color}})]
  });
}

pdosChart('cB', PDOS_SCI, C_SCI, 'rgba(50,205,50,0.8)', DASH_SCI, 1456, 2020, 'b)', 'PBE+scissors');
pdosChart('cC', PDOS_PBE0, C_PBE0, 'rgba(0,0,128,0.8)', DASH_PBE0, 2060, 2624, 'c)', 'PBE0');
pdosChart('cD', PDOS_U, C_U, 'rgba(255,0,0,0.8)', DASH_U, 2664, 3227, 'd)', 'PBE+U');
</script>
</body>
</html>
